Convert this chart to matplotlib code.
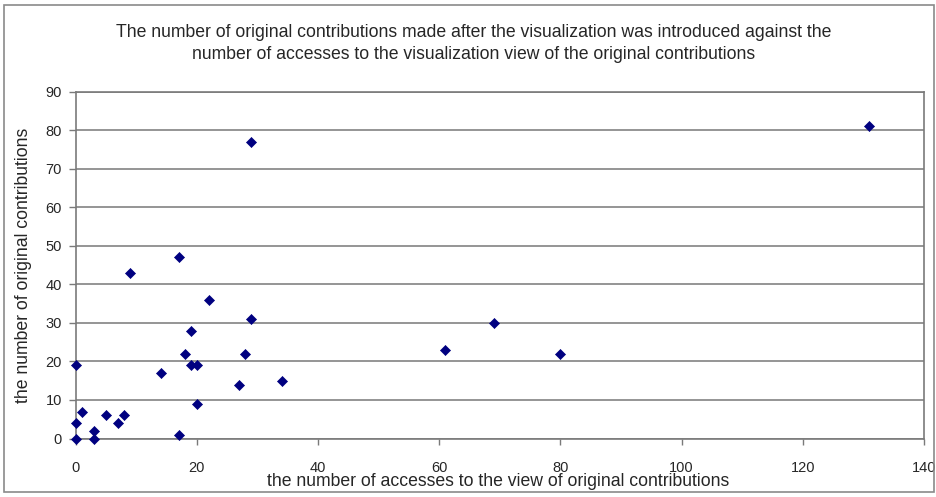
#!/usr/bin/env python3
"""
Scatter of original contributions against accesses to the visualization view.

Output:
    out.png
"""

import matplotlib
matplotlib.use("Agg")
import matplotlib.pyplot as plt
from matplotlib import font_manager
from matplotlib.patches import Rectangle


# ============================================================
# Data
# ============================================================

accesses = [
    131, 29, 17, 9, 22, 29, 19, 18, 28, 0,
    19, 20, 14, 27, 34, 20, 1, 5, 8, 7,
    0, 3, 3, 0, 17, 61, 69, 80,
]
contributions = [
    81, 77, 47, 43, 36, 31, 28, 22, 22, 19,
    19, 19, 17, 14, 15, 9, 7, 6, 6, 4,
    4, 2, 0, 0, 1, 23, 30, 22,
]

x_ticks = [0, 20, 40, 60, 80, 100, 120, 140]
y_ticks = [0, 10, 20, 30, 40, 50, 60, 70, 80, 90]

TITLE = ("The number of original contributions made after the visualization was introduced against the\n"
         "number of accesses to the visualization view of the original contributions")
X_LABEL = "the number of accesses to the view of original contributions"
Y_LABEL = "the number of original contributions"


# ============================================================
# Style
# ============================================================

W_PX, H_PX = 937, 497
DPI = 100

GRID_COLOR = "#8c8c8c"
AXIS_COLOR = "#7a7a7a"
TEXT_COLOR = "#262626"
MARKER_COLOR = "#000080"

available = {f.name for f in font_manager.fontManager.ttflist}
if "Liberation Sans Narrow" in available:
    FONT = "Liberation Sans Narrow"
    TITLE_SIZE, LABEL_SIZE, TICK_SIZE = 15.5, 15.5, 12.8
else:
    FONT = "Liberation Sans"
    TITLE_SIZE, LABEL_SIZE, TICK_SIZE = 12.7, 12.7, 10.5

plt.rcParams["font.family"] = [FONT, "DejaVu Sans"]


def px_x(x):
    return x / W_PX


def px_y(y):
    return 1.0 - y / H_PX


# ============================================================
# Plot
# ============================================================

def main():
    fig = plt.figure(figsize=(W_PX / DPI, H_PX / DPI), dpi=DPI)

    # plot area in pixel coordinates of the reference
    left, right, top, bottom = 75.7, 924.0, 91.7, 438.5
    ax = fig.add_axes([
        px_x(left),
        px_y(bottom),
        px_x(right - left),
        (bottom - top) / H_PX,
    ])

    ax.scatter(
        accesses,
        contributions,
        marker="D",
        s=26,
        color=MARKER_COLOR,
        edgecolors=MARKER_COLOR,
        linewidths=0.5,
        zorder=3,
        clip_on=False,
    )

    ax.set_xlim(x_ticks[0], x_ticks[-1])
    ax.set_ylim(y_ticks[0], y_ticks[-1])
    ax.set_xticks(x_ticks)
    ax.set_yticks(y_ticks)

    ax.yaxis.grid(True, color=GRID_COLOR, linewidth=1.3, zorder=1)
    ax.xaxis.grid(False)
    ax.set_axisbelow(True)

    for side in ["left", "right", "top", "bottom"]:
        ax.spines[side].set_color(AXIS_COLOR)
        ax.spines[side].set_linewidth(1.2)

    ax.tick_params(
        axis="x", direction="out", length=4, width=1.0,
        color=AXIS_COLOR, labelcolor=TEXT_COLOR, labelsize=TICK_SIZE, pad=12,
    )
    ax.tick_params(
        axis="y", direction="out", length=5, width=1.0,
        color=AXIS_COLOR, labelcolor=TEXT_COLOR, labelsize=TICK_SIZE, pad=5,
    )

    fig.text(
        px_x(474), px_y(43.5), TITLE,
        ha="center", va="center", multialignment="center",
        fontsize=TITLE_SIZE, color=TEXT_COLOR, linespacing=1.45,
    )
    fig.text(
        px_x(498), px_y(482), X_LABEL,
        ha="center", va="center", fontsize=LABEL_SIZE, color=TEXT_COLOR,
    )
    fig.text(
        px_x(24), px_y(265), Y_LABEL,
        ha="center", va="center", rotation=90,
        fontsize=LABEL_SIZE, color=TEXT_COLOR,
    )

    # chart area border
    fig.patches.append(Rectangle(
        (px_x(4), px_y(492)),
        px_x(930),
        (492 - 5) / H_PX,
        transform=fig.transFigure,
        fill=False,
        edgecolor="#8a8a8a",
        linewidth=1.2,
    ))

    fig.savefig("out.png", dpi=DPI)
    plt.close(fig)


if __name__ == "__main__":
    main()
